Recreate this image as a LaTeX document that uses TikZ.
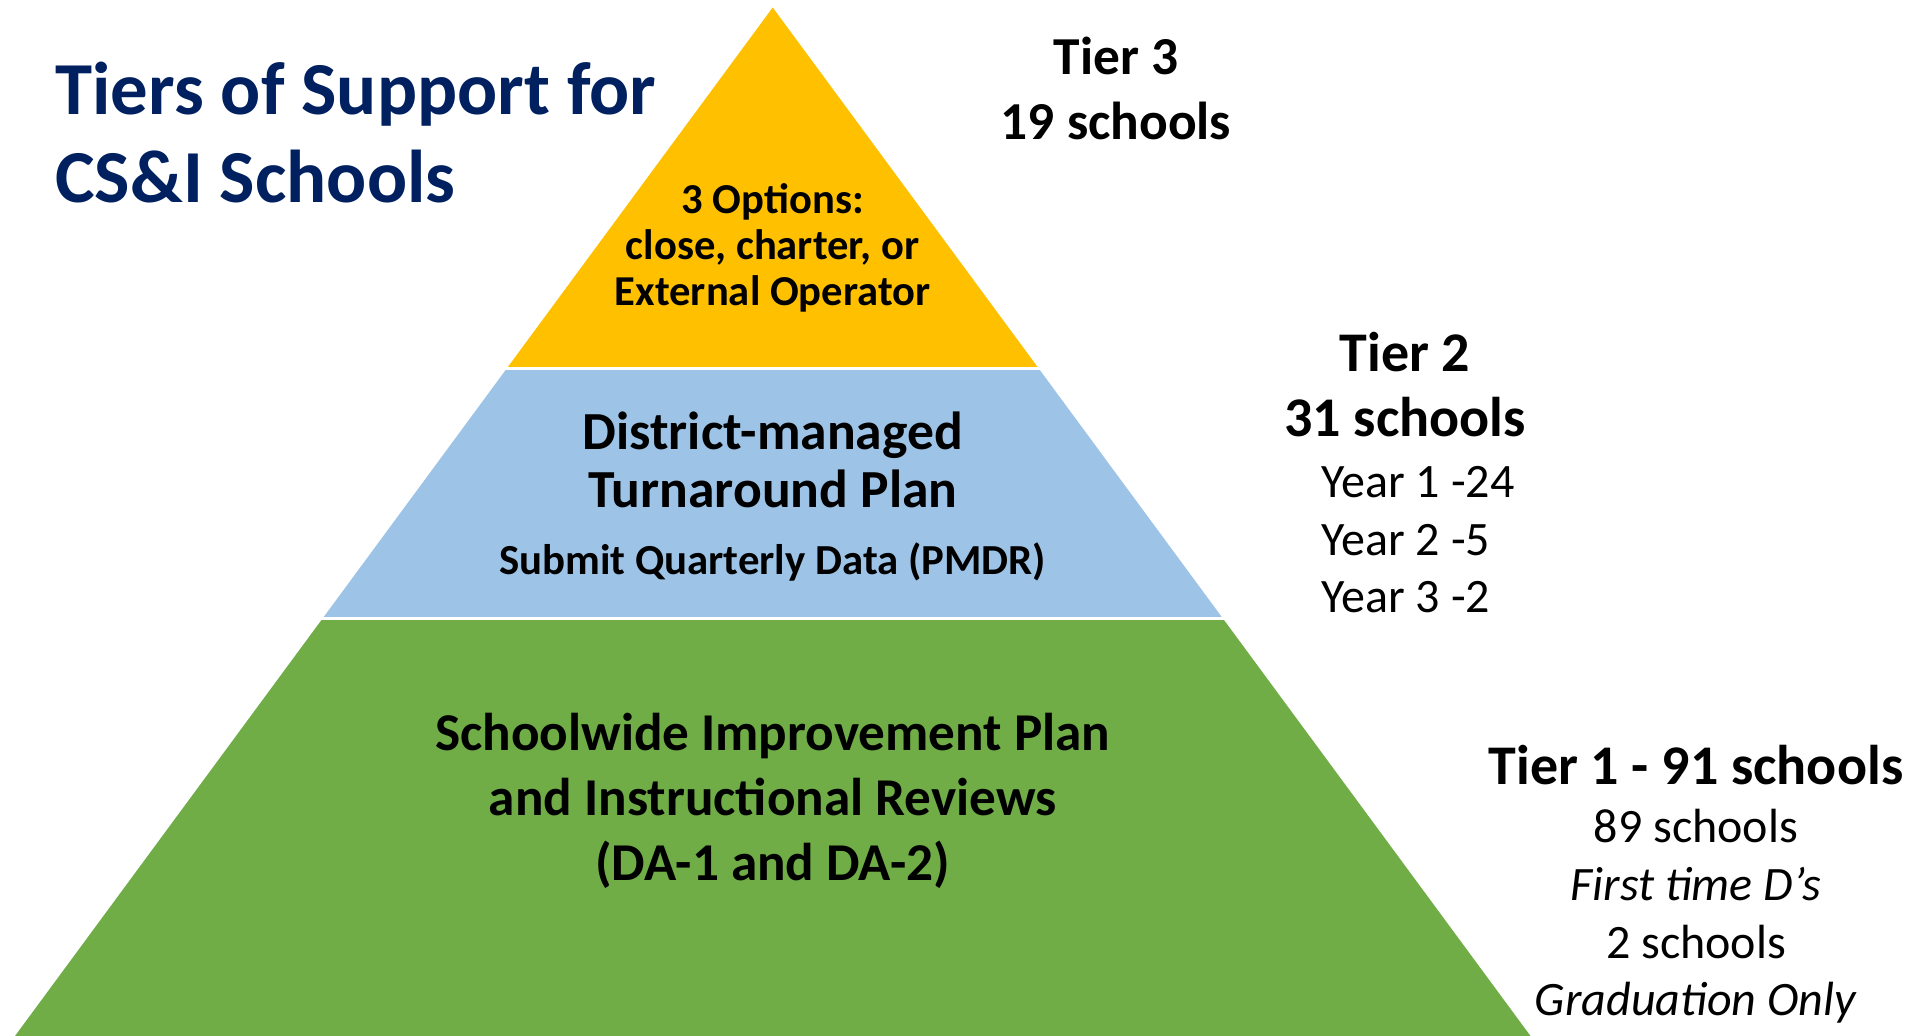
\documentclass[tikz,border=0pt]{standalone}
\usepackage{fontspec}
\setmainfont{Carlito}
\usepackage{xcolor}
\usepackage{tikz}
\usetikzlibrary{positioning}
\definecolor{tiergold}{HTML}{FFC000}
\definecolor{tierblue}{HTML}{9DC3E6}
\definecolor{tiergreen}{HTML}{70AD47}
\definecolor{titlenavy}{HTML}{002060}
\tikzset{
    titlenode/.style = {draw=none, inner sep=0em, align=left, text=titlenavy,
      font=\fontsize{37.4}{44}\selectfont\bfseries},
    bandnode/.style = {draw=none, inner sep=0em, align=center, font=\bfseries},
    countnode/.style = {draw=none, inner sep=0em, align=center,
      font=\fontsize{28}{32.5}\selectfont\bfseries},
    notenode/.style = {draw=none, inner sep=0em, font=\fontsize{24}{28.8}\selectfont}
}

\begin{document}
\begin{tikzpicture}[x=0.5pt, y=-0.5pt]
    \useasboundingbox (0,0) rectangle (1923,1036);

    % the pyramid, cut into three bands
    \coordinate (apex) at (772.7,7.5);
    \coordinate (baseL) at (15,1036);
    \coordinate (baseR) at (1530.5,1036);
    \begin{scope}
        \clip (apex) -- (baseL) -- (baseR) -- cycle;
        \fill [tiergold] (0,0) rectangle (1923,367);
        \fill [tierblue] (0,370) rectangle (1923,617);
        \fill [tiergreen] (0,620.5) rectangle (1923,1036);
    \end{scope}

    \node [name=title, titlenode, anchor=west] at (55,133) {Tiers of Support for\\CS\&I Schools};

    % text inside the bands
    \node [name=tier3box, bandnode, font=\fontsize{21.3}{23}\selectfont\bfseries] at (772.7,248)
        {3 Options:\\close, charter, or\\External Operator};
    \node [name=tier2box, bandnode, font=\fontsize{26.8}{29}\selectfont\bfseries] at (772.7,460)
        {District-managed\\Turnaround Plan};
    \node [name=pmdr, bandnode, font=\fontsize{21.4}{23}\selectfont\bfseries] at (772.7,562)
        {Submit Quarterly Data (PMDR)};
    \node [name=tier1box, bandnode, font=\fontsize{26.6}{32.5}\selectfont\bfseries] at (772.7,801)
        {Schoolwide Improvement Plan\\and Instructional Reviews\\(DA-1 and DA-2)};

    % counts at the side
    \node [name=tier3, countnode, font=\fontsize{26.7}{32.5}\selectfont\bfseries] at (1116,88)
        {Tier 3\\19 schools};
    \node [name=tier2, countnode] at (1405,385) {Tier 2\\31 schools};
    \node [name=years, notenode, align=left, anchor=north west] at (1321,466)
        {Year 1 -24\\Year 2 -5\\Year 3 -2};
    \node [name=tier1, countnode] at (1696,765) {Tier 1 - 91 schools};
    \node [name=tier1note, notenode, align=center, below=12pt of tier1]
        {89 schools\\\textit{First time D’s}\\2 schools\\\textit{Graduation Only}};
\end{tikzpicture}
\end{document}
